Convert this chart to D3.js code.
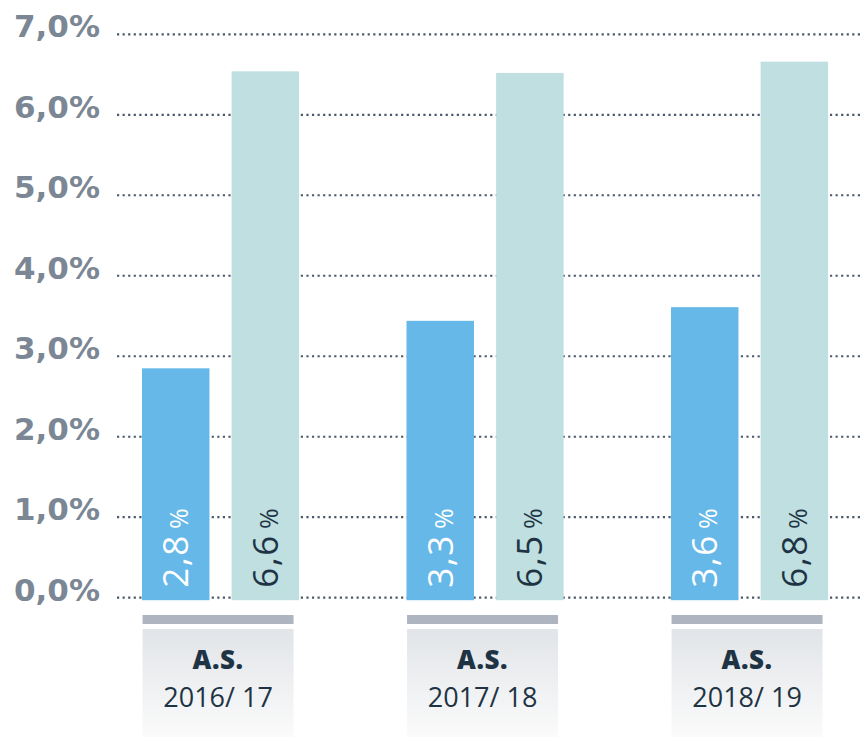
<!DOCTYPE html>
<html><head><meta charset="utf-8">
<script src="https://cdn.jsdelivr.net/npm/d3@7"></script>
<style>
html,body{margin:0;padding:0;background:#fff;}
svg{display:block;}
</style></head>
<body>
<script>
// ---- data ----
const categories = ["2016/ 17", "2017/ 18", "2018/ 19"];
const categoryPrefix = "A.S.";
const seriesNames = ["A", "B"];
const seriesA = [2.85, 3.44, 3.61];   // bar heights
const seriesB = [6.54, 6.52, 6.66];
const labelsA = ["2,8", "3,3", "3,6"];
const labelsB = ["6,6", "6,5", "6,8"];
const yTicks = [0, 1, 2, 3, 4, 5, 6, 7];

const W = 865, H = 737;
const svg = d3.select("body").append("svg").attr("width", W).attr("height", H);

const defs = svg.append("defs");
const grad = defs.append("linearGradient").attr("id", "boxGrad")
  .attr("x1", 0).attr("y1", 0).attr("x2", 0).attr("y2", 1);
grad.append("stop").attr("offset", "0%").attr("stop-color", "#e1e4e8");
grad.append("stop").attr("offset", "100%").attr("stop-color", "#fbfbfb");

const y = d3.scaleLinear().domain([0, 7]).range([597.7, 34.3]);
const x0 = d3.scaleBand().domain(categories).range([88.3, 881.8])
  .paddingInner(0.406).paddingOuter(0.203);
const x1 = d3.scaleBand().domain(seriesNames).range([0, x0.bandwidth()])
  .paddingInner(0.247).paddingOuter(0);

const locale = d3.formatLocale({decimal: ",", thousands: ".", grouping: [3], currency: ["", "€"]});
const fmt = v => locale.format(".1f")(v) + "%";

// gridlines
svg.append("g").selectAll("line").data(yTicks).join("line")
  .attr("x1", 117).attr("x2", 862)
  .attr("y1", d => y(d)).attr("y2", d => y(d))
  .attr("stroke", "#4a5a6b").attr("stroke-width", 2.2)
  .attr("stroke-dasharray", "2.2 3.37");

// y labels
svg.append("g").selectAll("text").data(yTicks).join("text")
  .attr("x", 100).attr("y", d => y(d) + 3)
  .attr("text-anchor", "end")
  .attr("font-family", "DejaVu Sans").attr("font-weight", "bold")
  .attr("font-size", 31).attr("fill", "#7b8794")
  .text(fmt);

const rows = categories.map((c, i) => ({
  cat: c,
  bars: [
    {s: "A", v: seriesA[i], label: labelsA[i], fill: "#66b8e8", txt: "#ffffff"},
    {s: "B", v: seriesB[i], label: labelsB[i], fill: "#bfdfe0", txt: "#1e3444"}
  ]
}));

const groups = svg.append("g").selectAll("g").data(rows).join("g")
  .attr("transform", d => `translate(${x0(d.cat)},0)`);

groups.selectAll("rect.bar").data(d => d.bars).join("rect")
  .attr("class", "bar")
  .attr("x", d => x1(d.s)).attr("width", x1.bandwidth())
  .attr("y", d => y(d.v)).attr("height", d => y(0) + 2.5 - y(d.v))
  .attr("fill", d => d.fill);

const lbl = groups.selectAll("text.val").data(d => d.bars).join("text")
  .attr("class", "val")
  .attr("transform", d => `translate(${x1(d.s) + x1.bandwidth() / 2 + 12.5},${y(0) - 10}) rotate(-90)`)
  .attr("font-family", "Open Sans").attr("font-weight", 400)
  .attr("fill", d => d.txt);
lbl.append("tspan").attr("font-size", 35).attr("letter-spacing", 1.5).text(d => d.label);
lbl.append("tspan").attr("font-size", 25).attr("dx", 5).text("%");

// category boxes
const boxW = 151;
const off = -2.5;
groups.append("rect")
  .attr("x", x0.bandwidth() / 2 + off - boxW / 2).attr("width", boxW)
  .attr("y", 615).attr("height", 9).attr("fill", "#aeb5c1");
groups.append("rect")
  .attr("x", x0.bandwidth() / 2 + off - boxW / 2).attr("width", boxW)
  .attr("y", 629).attr("height", H - 629).attr("fill", "url(#boxGrad)");
groups.append("text")
  .attr("x", x0.bandwidth() / 2 + off).attr("y", 669)
  .attr("text-anchor", "middle")
  .attr("font-family", "Open Sans").attr("font-weight", 800)
  .attr("font-size", 26).attr("letter-spacing", 0.5).attr("fill", "#1e3444")
  .text(categoryPrefix);
groups.append("text")
  .attr("x", x0.bandwidth() / 2 + off).attr("y", 707)
  .attr("text-anchor", "middle")
  .attr("font-family", "Open Sans").attr("font-weight", 400)
  .attr("font-size", 27).attr("fill", "#1e3444")
  .text(d => d.cat);
</script>
</body></html>
